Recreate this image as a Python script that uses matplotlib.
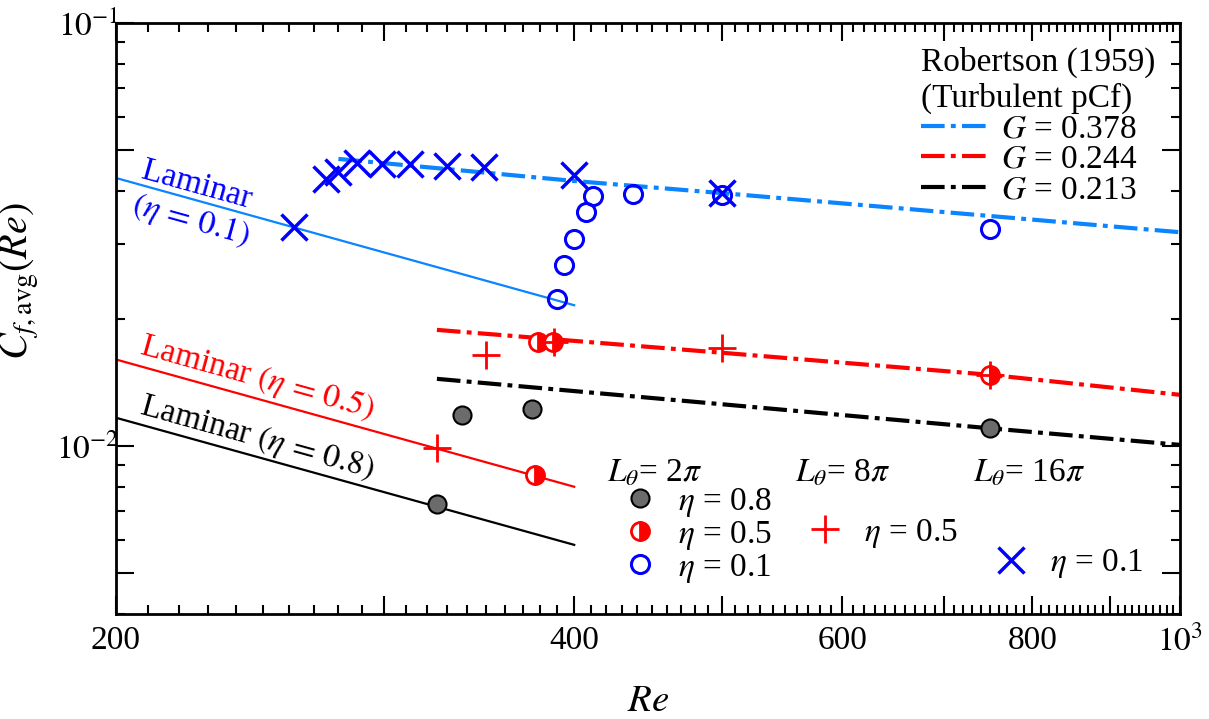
import matplotlib
matplotlib.use("Agg")
import matplotlib.pyplot as plt
from matplotlib.lines import Line2D
from matplotlib.ticker import FixedLocator, FixedFormatter, MultipleLocator

# ===== global style =====
plt.rcParams['font.family'] = ['Liberation Serif', 'DejaVu Serif']
plt.rcParams['mathtext.fontset'] = 'stix'
plt.rcParams['lines.scale_dashes'] = False
FS = 24

BLUE = "#0000ff"
LBLUE = "#0a84ff"
RED = "#ff0000"
GREY = "#6b6b6b"

# ===== data =====
# laminar lines
lam_re = [200, 400]
lam_cf_01 = [0.0430, 0.0215]
lam_cf_05 = [0.0160, 0.0080]
lam_cf_08 = [0.01165, 0.00583]

# Robertson (1959) turbulent pCf
rob_re_378 = [280, 400, 500, 1000]
rob_cf_378 = [0.0477, 0.0423, 0.0396, 0.0320]
rob_re_244 = [325, 500, 750, 1000]
rob_cf_244 = [0.0188, 0.0166, 0.01472, 0.0132]
rob_re_213 = [325, 500, 750, 1000]
rob_cf_213 = [0.0144, 0.01254, 0.0110, 0.01005]

# L_theta = 2pi
re_2pi_08 = [325, 337.5, 375, 750]
cf_2pi_08 = [0.00730, 0.01184, 0.01223, 0.01103]
re_2pi_05 = [377, 378.6, 387.6, 750]
cf_2pi_05 = [0.00854, 0.0176, 0.0176, 0.01472]
re_2pi_01 = [390, 394, 400, 407, 411.5, 437, 500, 750]
cf_2pi_01 = [0.02226, 0.0268, 0.0309, 0.0357, 0.0390, 0.0394, 0.0392, 0.0326]

# L_theta = 8pi
re_8pi_05 = [325, 350, 388, 500, 750]
cf_8pi_05 = [0.00989, 0.0164, 0.0176, 0.01706, 0.01472]

# L_theta = 16pi
re_16pi_01 = [262, 275, 280, 288, 299, 312, 330, 349, 400, 500]
cf_16pi_01 = [0.0330, 0.0427, 0.0444, 0.0467, 0.0465, 0.0465, 0.0460, 0.0457, 0.0437, 0.0396]

x_major = [200, 300, 400, 500, 600, 700, 800, 900, 1000]
x_labels = ["200", "", "400", "", "600", "", "800", "", "$10^{3}$"]
y_major = [0.005, 0.01, 0.05, 0.1]
y_labels = ["", "$10^{-2}$", "", "$10^{-1}$"]

# ===== figure =====
fig = plt.figure(figsize=(12.09, 7.19), dpi=100)
ax = fig.add_axes([0.0959, 0.146, 0.8801, 0.822])
ax.set_xscale("log")
ax.set_yscale("log")
ax.set_xlim(200, 1000)
ax.set_ylim(0.004, 0.1)

# laminar
ax.plot(lam_re, lam_cf_01, color=LBLUE, lw=1.6, zorder=2)
ax.plot(lam_re, lam_cf_05, color=RED, lw=1.6, zorder=2)
ax.plot(lam_re, lam_cf_08, color="black", lw=1.6, zorder=2)

# Robertson
dd = (0, (17, 4.5, 3.5, 4.5))
h378, = ax.plot(rob_re_378, rob_cf_378, color=LBLUE, lw=3, linestyle=dd, zorder=2)
h244, = ax.plot(rob_re_244, rob_cf_244, color=RED, lw=3, linestyle=dd, zorder=2)
h213, = ax.plot(rob_re_213, rob_cf_213, color="black", lw=3, linestyle=dd, zorder=2)

# markers
m08 = dict(marker="o", ms=13, mfc=GREY, mec="black", mew=1.5, ls="none")
m05 = dict(marker="o", ms=13, mfc=RED, mfcalt="white", fillstyle="right",
           mec=RED, mew=2, ls="none")
m01 = dict(marker="o", ms=13, mfc="none", mec=BLUE, mew=2.2, ls="none")
mp = dict(marker="+", ms=20, mec=RED, mew=2, ls="none")
mx = dict(marker="x", ms=19, mec=BLUE, mew=2.5, ls="none")

ax.plot(re_2pi_08, cf_2pi_08, zorder=4, **m08)
ax.plot(re_2pi_05, cf_2pi_05, zorder=4, **m05)
ax.plot(re_2pi_01, cf_2pi_01, zorder=4, **m01)
ax.plot(re_8pi_05, cf_8pi_05, zorder=5, **mp)
ax.plot(re_16pi_01, cf_16pi_01, zorder=5, **mx)

# laminar annotations
rot = -15.5
ax.text(226, 0.0414, "Laminar", color=BLUE, fontsize=FS, rotation=rot,
        ha="center", va="center")
ax.text(224, 0.0340, r"$\mathit{(\eta\,=\,0.1)}$", color=BLUE, fontsize=FS,
        rotation=rot, ha="center", va="center")
ax.text(247.6, 0.01448, r"Laminar $\mathit{(\eta\,=\,0.5)}$", color=RED,
        fontsize=FS, rotation=rot, ha="center", va="center")
ax.text(247.6, 0.01045, r"Laminar $\mathit{(\eta\,=\,0.8)}$", color="black",
        fontsize=FS, rotation=rot, ha="center", va="center")

# ticks
ax.xaxis.set_major_locator(FixedLocator(x_major))
ax.xaxis.set_major_formatter(FixedFormatter(x_labels))
ax.xaxis.set_minor_locator(MultipleLocator(10))
ax.xaxis.set_minor_formatter(FixedFormatter([]))
ax.yaxis.set_major_locator(FixedLocator(y_major))
ax.yaxis.set_major_formatter(FixedFormatter(y_labels))
ax.tick_params(which="both", direction="in", top=True, right=True, width=1.5,
               labelsize=FS)
ax.tick_params(which="major", length=13)
ax.tick_params(which="minor", length=6.5)
ax.tick_params(axis="x", which="major", pad=8)
ax.tick_params(axis="y", which="major", pad=-2)
for s in ax.spines.values():
    s.set_linewidth(2)

ax.set_xlabel("$Re$", fontsize=28, labelpad=18)
ax.set_ylabel(r"$C_{f,\mathrm{avg}}(Re)$", fontsize=29)
ax.yaxis.set_label_coords(-0.07, 0.563)

# Robertson legend
leg1 = ax.legend([h378, h244, h213],
                 ["$G$ = 0.378", "$G$ = 0.244", "$G$ = 0.213"],
                 loc="upper left", bbox_to_anchor=(0.757, 0.96),
                 frameon=False, fontsize=FS,
                 title="Robertson (1959)\n(Turbulent pCf)", title_fontsize=FS,
                 alignment="left", handlelength=2.1, handletextpad=0.3,
                 labelspacing=0.0, borderpad=0, borderaxespad=0)
ax.add_artist(leg1)

# symbol legend
blank = Line2D([], [], ls="none")
hs = [Line2D([], [], **m08), Line2D([], [], **m05), Line2D([], [], **m01),
      blank, Line2D([], [], **mp), blank,
      blank, blank, Line2D([], [], **mx)]
ls = [r"$\eta$ = 0.8", r"$\eta$ = 0.5", r"$\eta$ = 0.1",
      "", r"$\eta$ = 0.5", "",
      "", "", r"$\eta$ = 0.1"]
ax.legend(hs, ls, ncol=3, loc="upper left", bbox_to_anchor=(0.4765, 0.217),
          frameon=False, fontsize=FS, handlelength=1.0, handletextpad=0.66,
          columnspacing=1.1, labelspacing=0.0, borderpad=0, borderaxespad=0)

ax.text(0.4615, 0.224, r"$L_\theta$= 2$\pi$", transform=ax.transAxes,
        fontsize=FS, va="baseline")
ax.text(0.638, 0.224, r"$L_\theta$= 8$\pi$", transform=ax.transAxes,
        fontsize=FS, va="baseline")
ax.text(0.8055, 0.224, r"$L_\theta$= 16$\pi$", transform=ax.transAxes,
        fontsize=FS, va="baseline")

fig.savefig("out.png", dpi=100)
